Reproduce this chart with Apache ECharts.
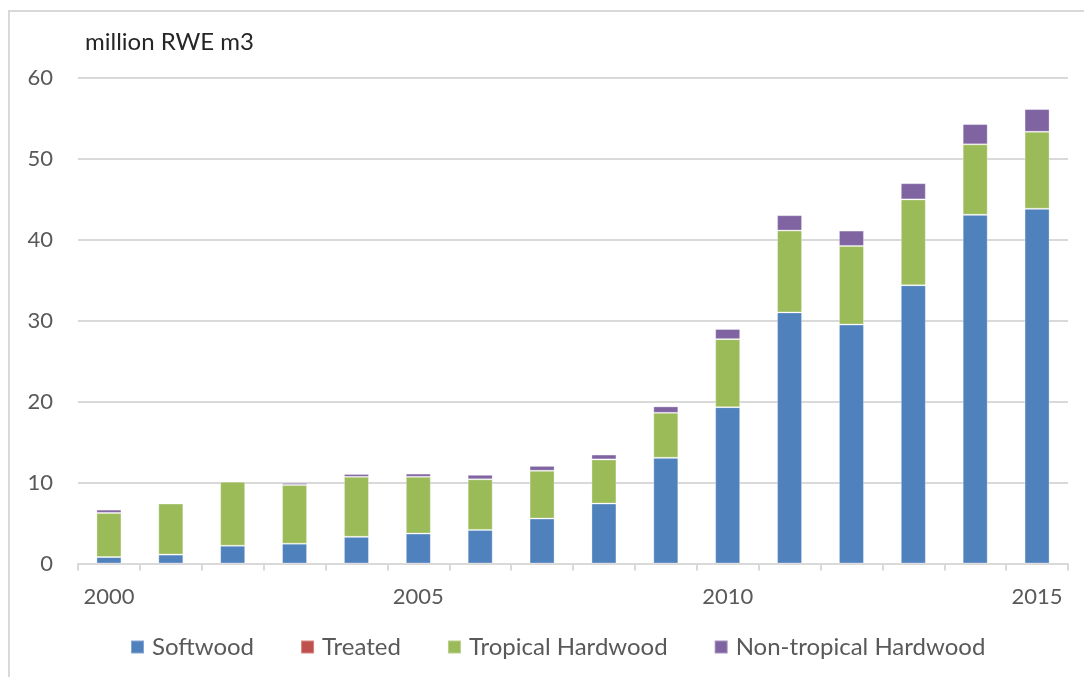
<!DOCTYPE html>
<html>
<head>
<meta charset="utf-8">
<script src="https://cdn.jsdelivr.net/npm/echarts@6/dist/echarts.min.js"></script>
<style>
  html, body { margin: 0; padding: 0; background: #fff; }
  #frame { position: absolute; left: 8px; top: 10px; width: 1100px; height: 700px;
           border-left: 2px solid #d9d9d9; border-top: 2px solid #d9d9d9; }
  #chart { position: absolute; left: 0; top: 0; width: 1084px; height: 677px; }
</style>
</head>
<body>
<div id="frame"></div>
<div id="chart"></div>
<script>
// Imports by wood type, million RWE m3
const years = ['2000','2001','2002','2003','2004','2005','2006','2007','2008','2009','2010','2011','2012','2013','2014','2015'];
const softwood = [0.8, 1.1, 2.2, 2.45, 3.3, 3.7, 4.15, 5.55, 7.4, 13.05, 19.3, 31.0, 29.5, 34.35, 43.05, 43.8];
const treated = [0, 0, 0, 0, 0, 0, 0, 0, 0, 0, 0, 0, 0, 0, 0, 0];
const tropicalHardwood = [5.45, 6.3, 7.9, 7.25, 7.4, 7.0, 6.25, 5.9, 5.45, 5.55, 8.4, 10.1, 9.7, 10.6, 8.7, 9.5];
const nonTropicalHardwood = [0.4, 0.1, 0.1, 0.25, 0.35, 0.4, 0.55, 0.6, 0.6, 0.8, 1.25, 1.9, 1.9, 2.0, 2.5, 2.8];
const yTicks = [0, 10, 20, 30, 40, 50, 60];

const FONT = 'Lato';
const TXT = '#595959';

function barSeries(name, data, color) {
  return {
    name: name, type: 'bar', stack: 'total', data: data, barWidth: 25,
    itemStyle: { color: color, borderColor: 'rgba(255,255,255,0.3)', borderWidth: 1 }
  };
}

const chart = echarts.init(document.getElementById('chart'), null, { renderer: 'canvas' });
chart.setOption({
  animation: false,
  textStyle: { fontFamily: FONT },
  grid: { left: 78, right: 16, top: 77.5, bottom: 113.5 },
  graphic: [{
    type: 'text', left: 85, top: 30,
    style: { text: 'million RWE m3', font: '24px ' + FONT, fill: '#262626' }
  }],
  legend: {
    bottom: 13, left: 125,
    itemWidth: 13, itemHeight: 13, itemGap: 46,
    icon: 'rect',
    textStyle: { fontFamily: FONT, fontSize: 24, color: TXT, padding: [0, 0, 0, 3] },
    data: ['Softwood', 'Treated', 'Tropical Hardwood', 'Non-tropical Hardwood']
  },
  xAxis: {
    type: 'category', data: years, boundaryGap: true,
    axisLine: { lineStyle: { color: '#d9d9d9', width: 2 } },
    axisTick: { show: true, interval: 0, length: 7, lineStyle: { color: '#d9d9d9', width: 2 } },
    axisLabel: {
      interval: function (i) { return i % 5 === 0; },
      color: TXT, fontSize: 22, fontFamily: FONT, margin: 22
    }
  },
  yAxis: {
    type: 'value', min: yTicks[0], max: yTicks[yTicks.length - 1], interval: 10,
    axisLine: { show: false }, axisTick: { show: false },
    splitLine: { lineStyle: { color: '#d9d9d9', width: 2 } },
    axisLabel: { color: TXT, fontSize: 22, fontFamily: FONT, margin: 25 }
  },
  series: [
    barSeries('Softwood', softwood, '#4f81bd'),
    barSeries('Treated', treated, '#c0504d'),
    barSeries('Tropical Hardwood', tropicalHardwood, '#9bbb59'),
    barSeries('Non-tropical Hardwood', nonTropicalHardwood, '#8064a2')
  ]
});
</script>
</body>
</html>
